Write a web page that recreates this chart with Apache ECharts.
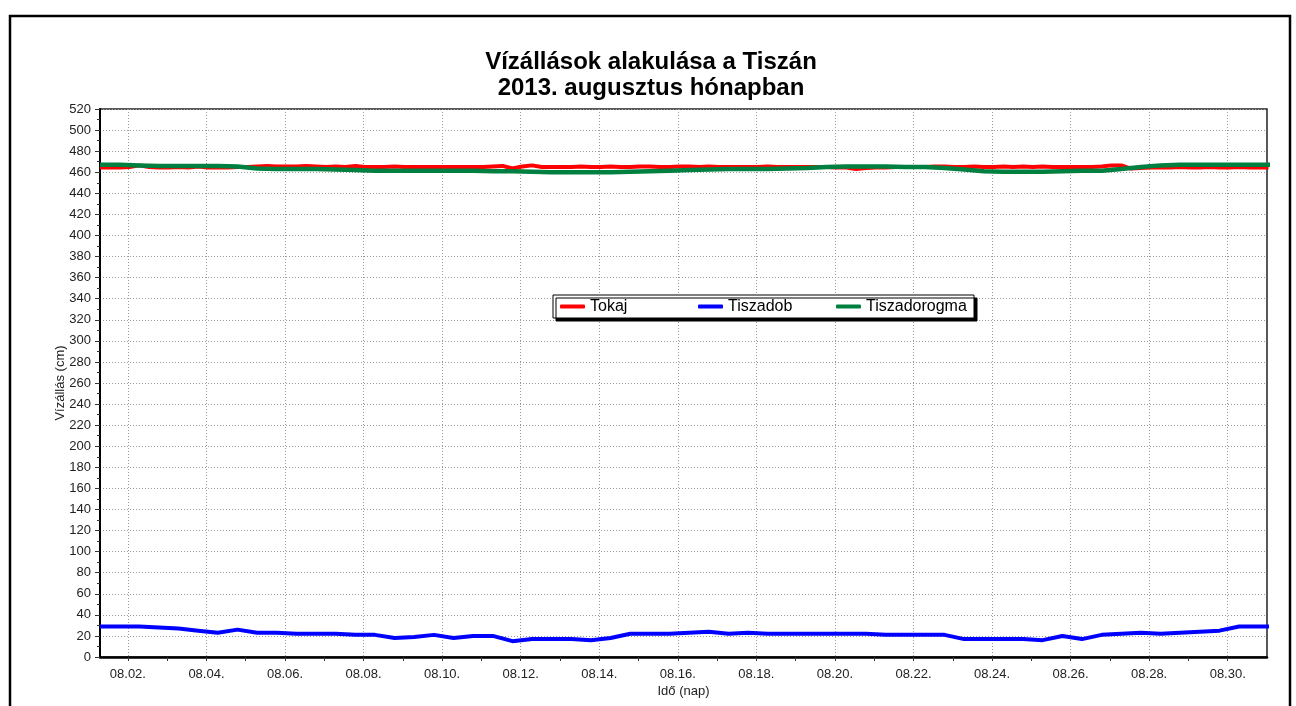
<!DOCTYPE html>
<html>
<head>
<meta charset="utf-8">
<script src="https://cdn.jsdelivr.net/npm/echarts@6/dist/echarts.min.js"></script>
<style>
  html, body { margin: 0; padding: 0; background: #fff; }
  #main { width: 1296px; height: 706px; }
</style>
</head>
<body>
<div id="main"></div>
<script>
// napok (augusztus), mért értékek cm-ben
var seriesNames = ['Tokaj', 'Tiszadob', 'Tiszadorogma'];
var dayTicks = [2, 4, 6, 8, 10, 12, 14, 16, 18, 20, 22, 24, 26, 28, 30];
var oddDays = [3, 5, 7, 9, 11, 13, 15, 17, 19, 21, 23, 25, 27, 29];

// Tokaj: 6 óránként, 08.01 7:00-tól
var tokajStart = 1.29, tokajStep = 0.25;
var tokaj = [
  464.5, 464.5, 464.5, 465,   466.5, 465, 464.5, 464.5,   465, 464.5, 465.5, 464.5,
  464.5, 464.5, 465, 465,     465.5, 466, 465.5, 465.5,   465.5, 466, 465.5, 465,
  465.5, 465, 466, 465,       465, 465, 465.5, 465,       465, 465, 465, 465,
  465, 465, 465, 465,         465.5, 466, 463.5, 465.5,   466.5, 465, 465, 465,
  465, 465.5, 465, 465,       465.5, 465, 465, 465.5,     465.5, 465, 465, 465.5,
  465.5, 465, 465.5, 465,     465, 465, 465, 465,         465.5, 465, 465, 465,
  465, 465, 465, 464.5,       464.5, 463, 464, 464.5,     464.5, 465, 465, 465,
  465, 465.5, 465.5, 465,     465, 465.5, 465, 465,       465.5, 465, 465.5, 465,
  465.5, 465, 465, 465,       465, 465, 465.5, 466.5,     466.5, 463.5, 464, 464.5,
  464.5, 464.5, 465, 464.5,   464.5, 465, 464.5, 464.5,   465, 464.5, 464.5, 464.5
];

// Tiszadob és Tiszadorogma: 12 óránként (7:00 és 19:00)
var halfStart = 1.29, halfStep = 0.5;
var tiszadob = [
  29, 29, 29, 28, 27, 25, 23, 26, 23, 23,
  22, 22, 22, 21, 21, 18, 19, 21, 18, 20,
  20, 15, 17, 17, 17, 16, 18, 22, 22, 22,
  23, 24, 22, 23, 22, 22, 22, 22, 22, 22,
  21, 21, 21, 21, 17, 17, 17, 17, 16, 20,
  17, 21, 22, 23, 22, 23, 24, 25, 29, 29,
  29, 29, 25
];
var tiszadorogma = [
  467, 467, 466.5, 466, 466, 466, 466, 465.5, 463.5, 463,
  463, 463, 462.5, 462, 461.5, 461.5, 461.5, 461.5, 461.5, 461.5,
  461, 461, 460.5, 460, 460, 460, 460, 460.5, 461, 461.5,
  462, 462.5, 463, 463, 463, 463.5, 464, 465, 465.5, 465.5,
  465.5, 465, 465, 464, 462.5, 461, 460.5, 460.5, 460.5, 461,
  461.5, 461.5, 463, 465, 466.5, 467, 467, 467, 467, 467,
  467, 467, 467
];

function pairs(start, step, vals) {
  return vals.map(function (v, i) { return [+(start + step * i).toFixed(3), v]; });
}

var font = 'Liberation Sans, Arial, sans-serif';
var chart = echarts.init(document.getElementById('main'));

chart.setOption({
  animation: false,
  backgroundColor: '#fff',
  textStyle: { fontFamily: font },
  graphic: [
    { type: 'rect', shape: { x: 10, y: 16, width: 1280, height: 720 },
      style: { fill: 'none', stroke: '#000', lineWidth: 2.5 }, silent: true },
    { type: 'text', x: 651, y: 62,
      style: { text: 'Vízállások alakulása a Tiszán', font: 'bold 24px ' + font,
               fill: '#000', textAlign: 'center', textVerticalAlign: 'middle' } },
    { type: 'text', x: 651, y: 88,
      style: { text: '2013. augusztus hónapban', font: 'bold 24px ' + font,
               fill: '#000', textAlign: 'center', textVerticalAlign: 'middle' } }
  ],
  legend: {
    data: seriesNames,
    left: 553, top: 295,
    padding: [3, 7],
    itemGap: 7,
    itemWidth: 25, itemHeight: 4,
    icon: 'roundRect',
    backgroundColor: '#fff',
    borderColor: '#000', borderWidth: 1,
    shadowColor: '#000', shadowBlur: 0, shadowOffsetX: 3, shadowOffsetY: 3,
    textStyle: { fontSize: 16, color: '#000', width: 101, lineHeight: 17, fontFamily: font }
  },
  grid: {
    left: 100, top: 109, right: 29, bottom: 49,
    show: true, borderColor: '#222', borderWidth: 1.5
  },
  xAxis: [{
    type: 'value', min: 1.29, max: 31,
    name: 'Idő (nap)', nameLocation: 'middle', nameGap: 28, nameMoveOverlap: false,
    nameTextStyle: { fontSize: 13, color: '#222' },
    axisLine: { show: true, onZero: false, lineStyle: { color: '#000', width: 2.5 } },
    axisTick: { show: true, customValues: dayTicks, length: 4, lineStyle: { color: '#333' } },
    axisLabel: {
      customValues: dayTicks, margin: 11, fontSize: 13, color: '#222',
      formatter: function (v) { return '08.' + (v < 10 ? '0' : '') + v + '.'; }
    },
    splitLine: { show: true, lineStyle: { color: '#999', type: [1, 2], width: 1 } }
  }, {
    type: 'value', min: 1.29, max: 31, position: 'bottom',
    axisLine: { show: false },
    axisTick: { show: true, customValues: oddDays, length: 4, lineStyle: { color: '#333' } },
    axisLabel: { show: false },
    splitLine: { show: false }
  }],
  yAxis: {
    type: 'value', min: 0, max: 520, interval: 20,
    name: 'Vízállás (cm)', nameLocation: 'middle', nameGap: 33, nameMoveOverlap: false,
    nameTextStyle: { fontSize: 13, color: '#222' },
    axisLine: { show: true, lineStyle: { color: '#000', width: 2 } },
    axisTick: { show: true, length: 5, lineStyle: { color: '#333' } },
    minorTick: { show: true, splitNumber: 2, length: 3, lineStyle: { color: '#333' } },
    axisLabel: { margin: 9, fontSize: 13, color: '#222' },
    splitLine: { show: true, lineStyle: { color: '#999', type: [1, 2], width: 1 } }
  },
  series: [{
    name: 'Tokaj', type: 'line', showSymbol: false, symbol: 'none',
    data: pairs(tokajStart, tokajStep, tokaj),
    itemStyle: { color: '#ff0000' }, lineStyle: { color: '#ff0000', width: 4 }
  }, {
    name: 'Tiszadob', type: 'line', showSymbol: false, symbol: 'none',
    data: pairs(halfStart, halfStep, tiszadob),
    itemStyle: { color: '#0000ff' }, lineStyle: { color: '#0000ff', width: 4 }
  }, {
    name: 'Tiszadorogma', type: 'line', showSymbol: false, symbol: 'none',
    data: pairs(halfStart, halfStep, tiszadorogma),
    itemStyle: { color: '#008040' }, lineStyle: { color: '#008040', width: 4.5 }
  }]
});
</script>
</body>
</html>
